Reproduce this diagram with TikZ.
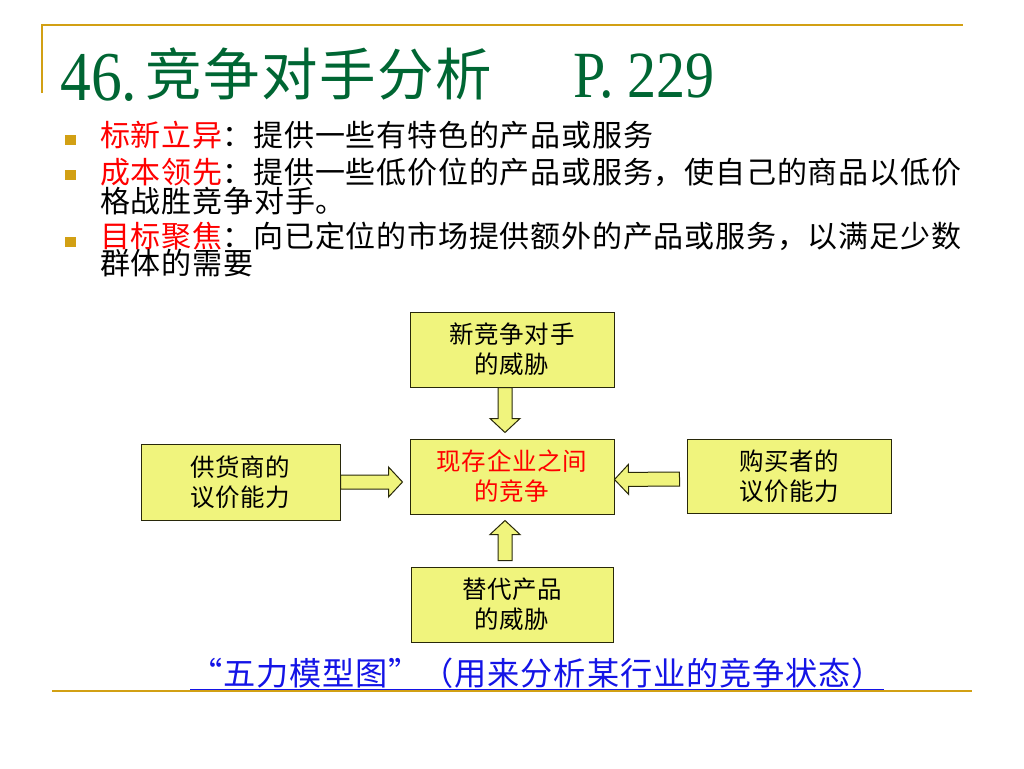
\documentclass[tikz,border=0pt]{standalone}
\usepackage{fontspec}
\setmainfont{Liberation Serif}
\newfontfamily\cjk[LetterSpace=2.7]{Noto Sans CJK SC}
\newfontfamily\numfont[FakeStretch=0.88]{Liberation Serif}
\usetikzlibrary{calc}
\definecolor{gold}{RGB}{210,160,20}
\definecolor{titlegreen}{RGB}{0,102,51}
\definecolor{boxfill}{RGB}{240,244,125}
\definecolor{boxline}{RGB}{40,40,10}
\definecolor{capblue}{RGB}{20,20,230}
\tikzset{
  goldline/.style={draw=gold, line width=2pt},
  titletext/.style={inner sep=0, text=titlegreen},
  bullettext/.style={inner sep=0, anchor=west, font=\cjk\fontsize{30}{30}\selectfont},
  bulletsq/.style={fill=gold, minimum width=11pt, minimum height=10pt, inner sep=0},
  forcebox/.style={draw=boxline, line width=1pt, fill=boxfill, minimum width=204pt, minimum height=75pt,
    inner sep=0, align=center, font=\cjk\fontsize{24.5}{30}\selectfont},
  fatarr/.style={draw=boxline, line width=1pt, fill=boxfill, line join=miter}
}
% fat arrow from #1 to #2 (tip)
\newcommand\fatarrow[2]{%
  \coordinate (fa-h) at ($(#2)!14pt!(#1)$);
  \draw[fatarr] ($(#1)!7pt!90:(#2)$) -- ($(fa-h)!7pt!90:(#2)$) -- ($(fa-h)!15pt!90:(#2)$) -- (#2)
    -- ($(fa-h)!15pt!-90:(#2)$) -- ($(fa-h)!7pt!-90:(#2)$) -- ($(#1)!7pt!-90:(#2)$) -- cycle;}
\begin{document}
\begin{tikzpicture}[x=1pt, y=-1pt]
        \useasboundingbox (0,0) rectangle (1024,768);
        % Frame lines
        \draw[goldline] (42,93) -- (42,25) -- (963,25);
        \draw[goldline] (52,691) -- (972,691);

        % Title
        \node[titletext, anchor=base west] (titlenum) at (60,100) {\numfont\fontsize{70}{70}\selectfont 46.};
        \node[titletext, anchor=west] (titlecjk) at (145,74) {\cjk\fontsize{56.5}{56.5}\selectfont 竞争对手分析};
        \node[titletext, anchor=base west] (titlepage) at (573,97) {\numfont\fontsize{66}{66}\selectfont P.\kern14pt 229};

        % Bullets
        \node[bulletsq] (sq1) at (70,140) {};
        \node[bulletsq] (sq2) at (70,175) {};
        \node[bulletsq] (sq3) at (70,242) {};
        \node[bullettext] (line1) at (100,135) {\textcolor{red}{标新立异}：提供一些有特色的产品或服务};
        \node[bullettext] (line2) at (100,172) {\textcolor{red}{成本领先}：提供一些低价位的产品或服务，使自己的商品以低价};
        \node[bullettext] (line2b) at (100,201) {格战胜竞争对手。};
        \node[bullettext] (line3) at (100,236) {\textcolor{red}{目标聚焦}：向已定位的市场提供额外的产品或服务，以满足少数};
        \node[bullettext] (line3b) at (100,263) {群体的需要};

        % Five forces
        \node[forcebox] (newrival) at (512,349.5) {新竞争对手\\的威胁};
        \node[forcebox, text=red] (rivalry) at (512,476.5) {现存企业之间\\的竞争};
        \node[forcebox, minimum width=199pt, minimum height=76pt] (supplier) at (240.5,482) {供货商的\\议价能力};
        \node[forcebox, minimum height=74pt] (buyer) at (789,476) {购买者的\\议价能力};
        \node[forcebox, minimum width=202pt] (substitute) at (512,604.5) {替代产品\\的威胁};

        % Arrows
        \coordinate (ns) at ($(newrival.south)+(-7,0)$);
        \coordinate (nt) at ($(rivalry.north)+(-7,-6)$);
        \coordinate (ss) at ($(substitute.north)+(-7,-6)$);
        \coordinate (st) at ($(rivalry.south)+(-7,6)$);
        \coordinate (sups) at (supplier.east);
        \coordinate (supt) at ($(rivalry.west)+(-7,5.5)$);
        \coordinate (bs) at ($(buyer.west)+(-7,3)$);
        \coordinate (bt) at ($(rivalry.east)+(0,3)$);
        \fatarrow{ns}{nt}
        \fatarrow{ss}{st}
        \fatarrow{sups}{supt}
        \fatarrow{bs}{bt}

        % Caption
        \node[inner sep=0, anchor=west, text=capblue] (caption) at (190,673)
          {\cjk\fontsize{32.2}{32.2}\selectfont “五力模型图”（用来分析某行业的竞争状态）};
        \draw[capblue, line width=1.2pt] ([yshift=-1pt]caption.south west) -- ([yshift=-1pt]caption.south east);
    \end{tikzpicture}
\end{document}
